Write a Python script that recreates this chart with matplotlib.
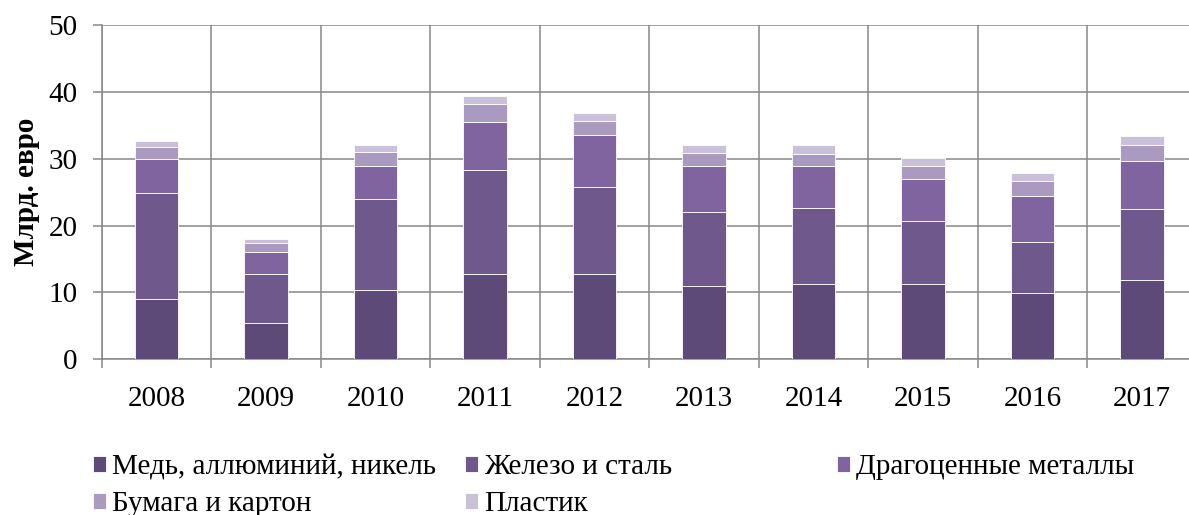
import numpy as np
import matplotlib
matplotlib.use('Agg')
import matplotlib.pyplot as plt

plt.rcParams['font.family'] = ['Liberation Serif', 'DejaVu Serif']

years = ['2008', '2009', '2010', '2011', '2012', '2013', '2014', '2015', '2016', '2017']
copper = [9.0, 5.5, 10.4, 12.7, 12.7, 10.9, 11.2, 11.2, 9.9, 11.8]
iron = [15.85, 7.2, 13.55, 15.6, 13.0, 11.1, 11.4, 9.45, 7.7, 10.65]
precious = [5.15, 3.35, 5.0, 7.25, 7.9, 6.95, 6.3, 6.3, 6.85, 7.2]
paper = [1.7, 1.3, 2.05, 2.65, 2.1, 1.85, 1.8, 1.9, 2.15, 2.45]
plastic = [0.9, 0.7, 1.0, 1.2, 1.1, 1.25, 1.3, 1.25, 1.25, 1.35]

series = [copper, iron, precious, paper, plastic]
names = ['Медь, аллюминий, никель', 'Железо и сталь', 'Драгоценные металлы',
         'Бумага и картон', 'Пластик']
colors = ['#5e4a78', '#6f588c', '#8064a0', '#aa9abf', '#cac0d9']

fig = plt.figure(figsize=(11.89, 5.15), dpi=100)
ax = fig.add_axes([0.0855, 0.3023, 0.921, 0.6492])

x = np.arange(len(years))
bottom = np.zeros(len(years))
bars = []
for vals, name, c in zip(series, names, colors):
    b = ax.bar(x, vals, 0.395, bottom=bottom, color=c, edgecolor='white',
               linewidth=0.6, label=name, zorder=3)
    bars.append(b)
    bottom += np.array(vals)

gridc = '#878787'
fs = 21
ax.set_xlim(-0.5, 9.5)
ax.set_ylim(0, 50)
ax.set_yticks(np.arange(0, 51, 10))
ax.set_xticks(x)
ax.set_xticklabels(years)
ax.set_xticks(np.arange(-0.5, 10, 1), minor=True)
ax.tick_params(axis='x', which='major', length=0, pad=19, labelsize=fs)
ax.tick_params(axis='x', which='minor', length=6.5, width=1.1, color=gridc)
ax.tick_params(axis='y', length=6.5, width=1.1, color=gridc, pad=11, labelsize=fs)
ax.grid(True, which='minor', axis='x', color=gridc, linewidth=1.1, zorder=0)
ax.grid(True, which='major', axis='y', color=gridc, linewidth=1.1, zorder=0)
for s in ['top', 'right']:
    ax.spines[s].set_visible(False)
for s in ['left', 'bottom']:
    ax.spines[s].set_color(gridc)
    ax.spines[s].set_linewidth(1.1)
ax.set_ylabel('Млрд. евро', fontsize=fs, fontweight='bold', labelpad=6)

# legend laid out row-wise in fixed columns
cols = [[0, 3], [1, 4], [2]]
xpos = [0.0782, 0.391, 0.704]
for xp, idx in zip(xpos, cols):
    fig.legend([bars[i] for i in idx], [names[i] for i in idx],
               loc='upper left', bbox_to_anchor=(xp, 0.118),
               frameon=False, fontsize=fs, handlelength=0.45,
               handleheight=0.45, handletextpad=0.2, labelspacing=0.38,
               borderaxespad=0, borderpad=0)

fig.savefig('out.png', dpi=100)
